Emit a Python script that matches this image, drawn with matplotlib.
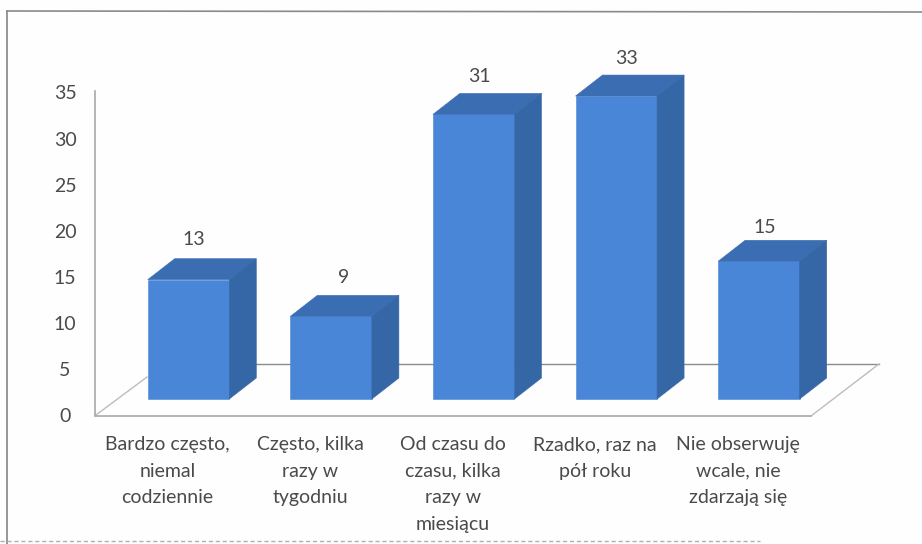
#!/usr/bin/env python3
"""Wykres słupkowy 3D rysowany na płaskich osiach"""
import matplotlib
matplotlib.use('Agg')
import matplotlib.pyplot as plt
from matplotlib.patches import Polygon

plt.rcParams['font.family'] = ['Lato', 'DejaVu Sans']

categories = ['Bardzo często,\nniemal\ncodziennie', 'Często, kilka\nrazy w\ntygodniu',
              'Od czasu do\nczasu, kilka\nrazy w\nmiesiącu', 'Rzadko, raz na\npół roku',
              'Nie obserwuję\nwcale, nie\nzdarzają się']
values = [13, 9, 31, 33, 15]
y_ticks = [0, 5, 10, 15, 20, 25, 30, 35]

W, H = 922, 544
SPACING = 142.6      # px między słupkami
FIRST_X = 188.5      # środek pierwszego słupka
BASE_Y = 399         # dół przedniej ściany
UNIT = 9.18          # px na jednostkę
BAR_W = 0.572        # szerokość w jednostkach kategorii
DX = 27 / SPACING    # głębokość słupka
DY = 21 / UNIT

# przesunięcia etykiet wartości w px (nierówne jak w oryginale)
LABEL_DX = [5.5, 13, 6, 10.5, 6]
LABEL_GAP = [19, 18, 17, 17, 13]

TEXT = '#4a4a4a'
FRONT = '#4a86d8'
TOP = '#3b6db3'
SIDE = '#3566a6'
LINE = '#a8a8a4'

fig = plt.figure(figsize=(W / 100, H / 100), dpi=100, facecolor='#fefefe')
ax = fig.add_axes([0, 0, 1, 1])
ax.axis('off')
ax.set_xlim(-FIRST_X / SPACING, (W - FIRST_X) / SPACING)
ax.set_ylim((BASE_Y - H) / UNIT, BASE_Y / UNIT)


def px(x, y):
    """piksele obrazka -> współrzędne danych (tylko ramka i podłoga)"""
    return (x - FIRST_X) / SPACING, (BASE_Y - y) / UNIT


# ramka skanu
ax.plot(*zip(px(7, 544), px(7, 11)), color='#8f8f8f', lw=1.3, zorder=1)
ax.plot(*zip(px(7, 11), px(922, 12)), color='#8a8a8a', lw=1.2, zorder=1)
ax.plot(*zip(px(0, 541), px(760, 541)), color='#b0b0b0', lw=1.0, ls=(0, (3, 2)), zorder=1)

# podłoga i oś pionowa
ax.plot(*zip(px(96, 415), px(147, 377)), color='#bdbdb8', lw=1, zorder=1)
ax.plot(*zip(px(250, 364), px(879, 364)), color='#8c8c88', lw=1, zorder=1)
ax.plot(*zip(px(879, 364), px(811, 416)), color='#bdbdb8', lw=1, zorder=1)
ax.plot(*zip(px(96, 416), px(811, 416)), color=LINE, lw=1.2, zorder=1)
ax.plot(*zip(px(95, 91), px(95, 416)), color=LINE, lw=1.2, zorder=1)

# opisy osi Y
for t in y_ticks:
    x, _ = px(65, 0)
    _, y = px(0, 417 - t * 9.23)
    ax.text(x, y, str(t), ha='center', va='center', fontsize=14, color=TEXT)

# słupki
for i, v in enumerate(values):
    l, r = i - BAR_W / 2, i + BAR_W / 2
    ax.add_patch(Polygon([(l, 0), (r, 0), (r, v), (l, v)], fc=FRONT, ec=FRONT, lw=0.4, zorder=3))
    ax.add_patch(Polygon([(l, v), (r, v), (r + DX, v + DY), (l + DX, v + DY)], fc=TOP, ec=TOP, lw=0.4, zorder=3))
    ax.add_patch(Polygon([(r, 0), (r + DX, DY), (r + DX, v + DY), (r, v)], fc=SIDE, ec=SIDE, lw=0.4, zorder=3))
    ax.text(i + LABEL_DX[i] / SPACING, v + DY + LABEL_GAP[i] / UNIT, str(v), ha='center', va='center',
            fontsize=14, color=TEXT, zorder=4)

# opisy kategorii
for i, c in enumerate(categories):
    x, y = px(FIRST_X + i * SPACING - 21, 436)
    ax.text(x, y, c, ha='center', va='top', fontsize=14, color=TEXT, linespacing=1.68)

plt.savefig('out.png', dpi=100, facecolor=fig.get_facecolor())
plt.close()
